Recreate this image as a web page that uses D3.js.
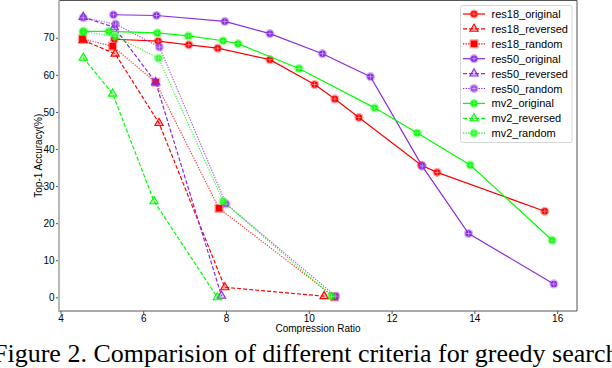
<!DOCTYPE html>
<html>
<head>
<meta charset="utf-8">
<script src="https://cdn.jsdelivr.net/npm/d3@7"></script>
<style>
  html, body { margin: 0; padding: 0; background: #fff; }
  svg { display: block; }
  .tick text { font-family: "Liberation Sans", Arial, sans-serif; font-size: 10px; fill: #000; }
</style>
</head>
<body>
<div class="chart"></div>
<script>
// values: [compression ratio, top-1 accuracy]
var res18_original = [[5.3, 69.6], [6.36, 69.1], [7.1, 68.1], [7.8, 67.2], [9.06, 64.1], [10.14, 57.4],
                      [10.63, 53.5], [11.21, 48.5], [12.72, 35.6], [13.1, 33.7], [15.7, 23.2]];
var res18_reversed = [[4.55, 69.3], [5.32, 65.7], [6.38, 47.0], [7.97, 2.7], [10.37, 0.3]];
var res18_random   = [[4.53, 69.7], [5.26, 67.7], [6.3, 58.0], [7.83, 24.0], [10.62, 0.1]];
var res50_original = [[5.28, 76.2], [6.32, 76.0], [7.97, 74.4], [9.06, 71.1], [10.33, 65.7],
                      [11.49, 59.5], [12.74, 35.4], [13.86, 17.2], [15.92, 3.6]];
var res50_reversed = [[4.55, 75.6], [5.3, 72.8], [6.3, 58.0], [7.89, 0.4]];
var res50_random   = [[4.55, 75.4], [5.33, 73.7], [6.39, 67.5], [8.0, 25.2], [10.65, 0.3]];
var mv2_original   = [[4.55, 71.7], [5.17, 71.7], [6.34, 71.3], [7.09, 70.5], [7.93, 69.2], [8.29, 68.4],
                      [9.76, 61.7], [11.59, 51.1], [12.62, 44.3], [13.9, 35.7], [15.88, 15.4]];
var mv2_reversed   = [[4.55, 64.6], [5.26, 54.9], [6.26, 25.9], [7.79, 0.0]];
var mv2_random     = [[4.55, 71.6], [5.32, 70.4], [6.37, 64.5], [7.93, 25.9], [10.55, 0.3]];

var seriesNames = ["res18_original", "res18_reversed", "res18_random",
                   "res50_original", "res50_reversed", "res50_random",
                   "mv2_original", "mv2_reversed", "mv2_random"];
var seriesData = [res18_original, res18_reversed, res18_random,
                  res50_original, res50_reversed, res50_random,
                  mv2_original, mv2_reversed, mv2_random];
var xTicks = [4, 6, 8, 10, 12, 14, 16];
var yTicks = [0, 10, 20, 30, 40, 50, 60, 70];

var colors = {res18: "#ff0000", res50: "#8a2be2", mv2: "#00ff00"};
var dashes = {original: null, reversed: "4,2", random: "1.3,1.3"};

var W = 612, H = 368;
var plot = {left: 59, right: 577, top: 0.5, bottom: 311};

var svg = d3.select(".chart").append("svg").attr("width", W).attr("height", H);

var x = d3.scaleLinear().domain([3.964, 16.48]).range([plot.left, plot.right]);
var y = d3.scaleLinear().domain([-3.69, 80.05]).range([plot.bottom, plot.top]);

// axes
svg.append("g")
    .attr("transform", "translate(0," + plot.bottom + ")")
    .call(d3.axisBottom(x).tickValues(xTicks).tickSize(3).tickPadding(0.5))
    .call(function(g){ g.select(".domain").remove(); g.selectAll("line").attr("stroke", "#555"); });

svg.append("g")
    .attr("transform", "translate(" + plot.left + ",0)")
    .call(d3.axisLeft(y).tickValues(yTicks).tickSize(3).tickPadding(1.5))
    .call(function(g){ g.select(".domain").remove(); g.selectAll("line").attr("stroke", "#555"); });

// frame
svg.append("line").attr("x1", plot.left).attr("x2", plot.right).attr("y1", plot.top).attr("y2", plot.top)
    .attr("stroke", "#555").attr("stroke-width", 1);
svg.append("line").attr("x1", plot.right).attr("x2", plot.right).attr("y1", plot.top).attr("y2", plot.bottom)
    .attr("stroke", "#555").attr("stroke-width", 1);
svg.append("line").attr("x1", plot.left).attr("x2", plot.right).attr("y1", plot.bottom).attr("y2", plot.bottom)
    .attr("stroke", "#555").attr("stroke-width", 1);
svg.append("line").attr("x1", plot.left).attr("x2", plot.left).attr("y1", plot.top).attr("y2", plot.bottom + 1)
    .attr("stroke", "#b8b8b8").attr("stroke-width", 2);

// axis labels
svg.append("text")
    .attr("x", (plot.left + plot.right) / 2).attr("y", 331.5)
    .attr("text-anchor", "middle")
    .style("font-family", "Liberation Sans, Arial, sans-serif").style("font-size", "10px")
    .text("Compression Ratio");
svg.append("text")
    .attr("transform", "translate(41.5," + ((plot.top + plot.bottom) / 2) + ") rotate(-90)")
    .attr("text-anchor", "middle")
    .style("font-family", "Liberation Sans, Arial, sans-serif").style("font-size", "10px")
    .text("Top-1 Accuracy(%)");

// marker drawing
function drawMarker(g, kind, color) {
    if (kind === "reversed") {
        g.append("path").attr("d", d3.symbol().type(d3.symbolTriangle).size(30)())
            .attr("fill", color).attr("fill-opacity", 0.3)
            .attr("stroke", color).attr("stroke-width", 1.1);
    } else if (kind === "random" && color === colors.res18) {
        g.append("rect").attr("x", -4.6).attr("y", -4.6).attr("width", 9.2).attr("height", 9.2)
            .attr("fill", color).attr("fill-opacity", 0.35);
        g.append("rect").attr("x", -3.3).attr("y", -3.3).attr("width", 6.6).attr("height", 6.6)
            .attr("fill", color);
    } else {
        g.append("circle").attr("r", 4.6).attr("fill", color).attr("fill-opacity", 0.35);
        g.append("circle").attr("r", 3.2).attr("fill", color).attr("fill-opacity", kind === "random" ? 0.75 : 1);
        g.append("path").attr("d", "M-2.6,0H2.6M0,-2.6V2.6")
            .attr("stroke", "#fff").attr("stroke-opacity", 0.5).attr("stroke-width", 0.8);
    }
}

var line = d3.line().x(function(d){ return x(d[0]); }).y(function(d){ return y(d[1]); });

var plotArea = svg.append("g");
seriesNames.forEach(function(name, i) {
    var parts = name.split("_");
    var color = colors[parts[0]], kind = parts[1];
    var g = plotArea.append("g");
    g.append("path").datum(seriesData[i])
        .attr("d", line)
        .attr("fill", "none")
        .attr("stroke", color)
        .attr("stroke-width", 1.2)
        .attr("stroke-opacity", kind === "random" ? 0.75 : 1)
        .attr("stroke-dasharray", dashes[kind]);
    g.selectAll(".pt").data(seriesData[i]).enter()
        .append("g").attr("class", "pt")
        .attr("transform", function(d){ return "translate(" + x(d[0]) + "," + y(d[1]) + ")"; })
        .each(function(){ drawMarker(d3.select(this), kind, color); });
});

// legend
var legend = svg.append("g");
legend.append("rect")
    .attr("x", 460.5).attr("y", 5.5).attr("width", 111.5).attr("height", 137)
    .attr("rx", 2).attr("fill", "#fff").attr("fill-opacity", 0.85)
    .attr("stroke", "#d6d6d6").attr("stroke-width", 1);
seriesNames.forEach(function(name, i) {
    var parts = name.split("_");
    var color = colors[parts[0]], kind = parts[1];
    var ly = 14 + i * 14.9;
    legend.append("line")
        .attr("x1", 463).attr("x2", 485).attr("y1", ly).attr("y2", ly)
        .attr("stroke", color).attr("stroke-width", 1.2)
        .attr("stroke-dasharray", dashes[kind]);
    drawMarker(legend.append("g").attr("transform", "translate(474," + ly + ")"), kind, color);
    legend.append("text")
        .attr("x", 491.5).attr("y", ly + 4)
        .style("font-family", "Liberation Sans, Arial, sans-serif").style("font-size", "11px")
        .text(name);
});

// caption
svg.append("text")
    .attr("x", -7).attr("y", 362)
    .style("font-family", "Liberation Serif, Times New Roman, serif").style("font-size", "26px")
    .text("Figure 2. Comparision of different criteria for greedy search");
</script>
</body>
</html>
